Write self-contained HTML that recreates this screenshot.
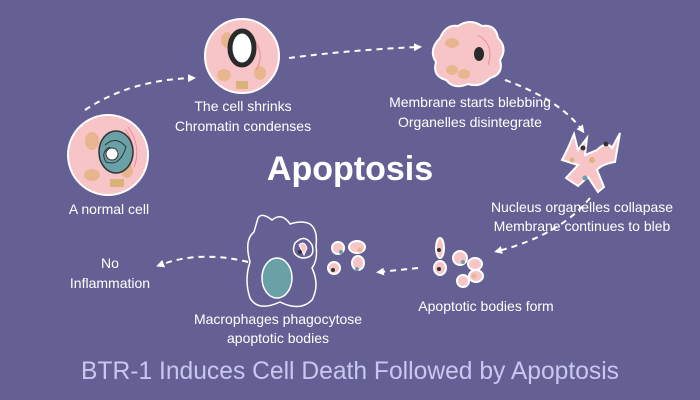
<!DOCTYPE html>
<html><head><meta charset="utf-8"><style>
html,body{margin:0;padding:0;background:#646094;}
svg{display:block;}
text{font-family:"Liberation Sans",sans-serif;fill:#fff;}
</style></head><body>
<svg width="700" height="400" viewBox="0 0 700 400" xmlns="http://www.w3.org/2000/svg">
<rect width="700" height="400" fill="#646094"/>
<defs>
<marker id="ah" markerWidth="8" markerHeight="8" refX="4" refY="4" orient="auto" markerUnits="userSpaceOnUse"><path d="M0,0 L8,4 L0,8 Z" fill="#fff"/></marker>
</defs>
<g fill="none" stroke="#fff" stroke-width="2" stroke-dasharray="6,5" marker-end="url(#ah)">
<path d="M85,110 Q130,80 192,78"/>
<path d="M289,58 Q350,50 418,47"/>
<path d="M505,80 Q560,100 582,130"/>
<path d="M590,198 Q560,235 498,251"/>
<path d="M418,268 L380,272"/>
<path d="M248,262 Q200,250 160,265"/>
</g>
<!-- normal cell -->
<g transform="translate(10,7)">
<circle cx="98" cy="148" r="40" fill="#f7c5c8" stroke="#fff" stroke-width="2"/>
<ellipse cx="82" cy="134" rx="7" ry="9" fill="#e8b68e"/>
<ellipse cx="82" cy="168" rx="8" ry="6" fill="#e8b68e"/>
<ellipse cx="117" cy="164" rx="6" ry="7" fill="#e8b68e"/>
<path d="M115,122 Q128,140 120,158 M118,120 Q132,140 124,160" stroke="#f08a9a" fill="none"/>
<rect x="100" y="172" width="14" height="8" fill="#d9b47a"/>
<ellipse cx="106" cy="145" rx="17" ry="21" fill="#6aa0a7" stroke="#333" stroke-width="1.5"/>
<path d="M95,138 Q106,128 116,140 Q110,160 96,155 Q90,145 100,140" stroke="#333" fill="none"/>
<circle cx="102" cy="147" r="6" fill="#fff" stroke="#333"/>
</g>
<!-- shrinking cell -->
<circle cx="242" cy="56" r="37" fill="#f7c5c8" stroke="#fff" stroke-width="2"/>
<ellipse cx="227" cy="40" rx="6" ry="8" fill="#e8b68e"/>
<ellipse cx="224" cy="75" rx="7" ry="6" fill="#e8b68e"/>
<ellipse cx="260" cy="73" rx="6" ry="7" fill="#e8b68e"/>
<path d="M252,36 Q266,54 256,70" stroke="#f08a9a" fill="none"/>
<rect x="236" y="81" width="12" height="8" fill="#d9b47a"/>
<ellipse cx="242" cy="48" rx="12" ry="17" fill="#fff" stroke="#2a2a2a" stroke-width="5"/>
<!-- blebbing cell -->
<path d="M440,38 Q446,24 458,26 Q470,18 482,26 Q496,24 498,38 Q508,48 500,60 Q504,74 490,78 Q480,88 468,84 Q454,90 446,80 Q432,76 436,62 Q428,50 440,38 Z" fill="#f7c5c8" stroke="#fff" stroke-width="2"/>
<ellipse cx="452" cy="43" rx="7" ry="5" fill="#e8b68e"/>
<ellipse cx="452" cy="70" rx="6" ry="5" fill="#e8b68e"/>
<ellipse cx="464" cy="74" rx="6" ry="5" fill="#e8b68e"/>
<ellipse cx="479" cy="54" rx="5" ry="7" fill="#2a2a2a"/>
<path d="M478,35 Q495,45 488,65" stroke="#f08a9a" fill="none"/>
<!-- collapsed cell -->
<path d="M568,148 L574,134 L578,150 L587,138 L585,155 L597,150 Q607,140 612,148 L620,133 L615,162 Q602,164 597,170 L604,187 L598,192 L588,177 L578,186 L566,178 L578,165 L562,160 Z" fill="#f7c5c8" stroke="#fff" stroke-width="2"/>
<circle cx="583" cy="148" r="2.5" fill="#333"/><circle cx="606" cy="144" r="2.5" fill="#333"/>
<circle cx="572" cy="160" r="2.5" fill="#d9b47a"/><circle cx="592" cy="160" r="3" fill="#d9b47a"/>
<circle cx="585" cy="178" r="2.5" fill="#6aa0a7"/>
<!-- apoptotic bodies -->
<g fill="#f7c5c8" stroke="#fff" stroke-width="2">
<ellipse cx="440" cy="248" rx="4" ry="10"/><ellipse cx="440" cy="268" rx="6" ry="7"/>
<ellipse cx="460" cy="258" rx="7" ry="7"/><ellipse cx="475" cy="264" rx="7" ry="6"/>
<ellipse cx="476" cy="276" rx="7" ry="6"/><ellipse cx="463" cy="281" rx="6" ry="6"/>
<ellipse cx="338" cy="248" rx="6" ry="6"/><ellipse cx="357" cy="247" rx="8" ry="6"/>
<ellipse cx="358" cy="263" rx="6" ry="7"/><ellipse cx="334" cy="268" rx="6" ry="6"/>
</g>
<circle cx="439" cy="250" r="2" fill="#333"/><circle cx="439" cy="269" r="2" fill="#333"/><circle cx="333" cy="270" r="2" fill="#333"/>
<circle cx="463" cy="262" r="2" fill="#6aa0a7"/><circle cx="341" cy="252" r="2" fill="#6aa0a7"/><circle cx="357" cy="269" r="2" fill="#6aa0a7"/>
<circle cx="474" cy="276" r="2.5" fill="#e8b68e"/><circle cx="360" cy="250" r="2.5" fill="#e8b68e"/>
<!-- macrophage -->
<path d="M258,218 Q262,212 272,220 Q282,212 290,224 Q302,220 310,224 Q318,230 316,246 Q318,260 312,268 Q320,285 312,300 Q300,312 280,302 Q258,312 250,298 Q244,280 250,262 Q244,240 254,232 Z" fill="none" stroke="#fff" stroke-width="1.5"/>
<path d="M295,243 Q305,233 312,245 Q316,258 302,258 Q290,255 295,243 Z" fill="none" stroke="#fff" stroke-width="1.5"/>
<path d="M299,245 Q304,240 307,248 L304,255 Z" fill="#f7c5c8" stroke="#fff"/>
<circle cx="300" cy="252" r="2" fill="#333"/>
<ellipse cx="277" cy="278" rx="15" ry="20" fill="#6aa0a7" stroke="#fff" stroke-width="1.5"/>
<!-- labels -->
<g font-size="14" text-anchor="middle">
<text x="243" y="111">The cell shrinks</text>
<text x="243" y="131">Chromatin condenses</text>
<text x="109" y="214">A normal cell</text>
<text x="470" y="107">Membrane starts blebbing</text>
<text x="470" y="127">Organelles disintegrate</text>
<text x="582" y="212">Nucleus organelles collapase</text>
<text x="582" y="231">Membrane continues to bleb</text>
<text x="486" y="311">Apoptotic bodies form</text>
<text x="278" y="324">Macrophages phagocytose</text>
<text x="278" y="343">apoptotic bodies</text>
<text x="110" y="268">No</text>
<text x="110" y="288">Inflammation</text>
</g>
<text x="350" y="180" font-size="34" font-weight="bold" text-anchor="middle">Apoptosis</text>
<text x="350" y="379" font-size="25" text-anchor="middle" style="fill:#c9c6f2" textLength="538" lengthAdjust="spacingAndGlyphs">BTR-1 Induces Cell Death Followed by Apoptosis</text>
</svg>
</body></html>
